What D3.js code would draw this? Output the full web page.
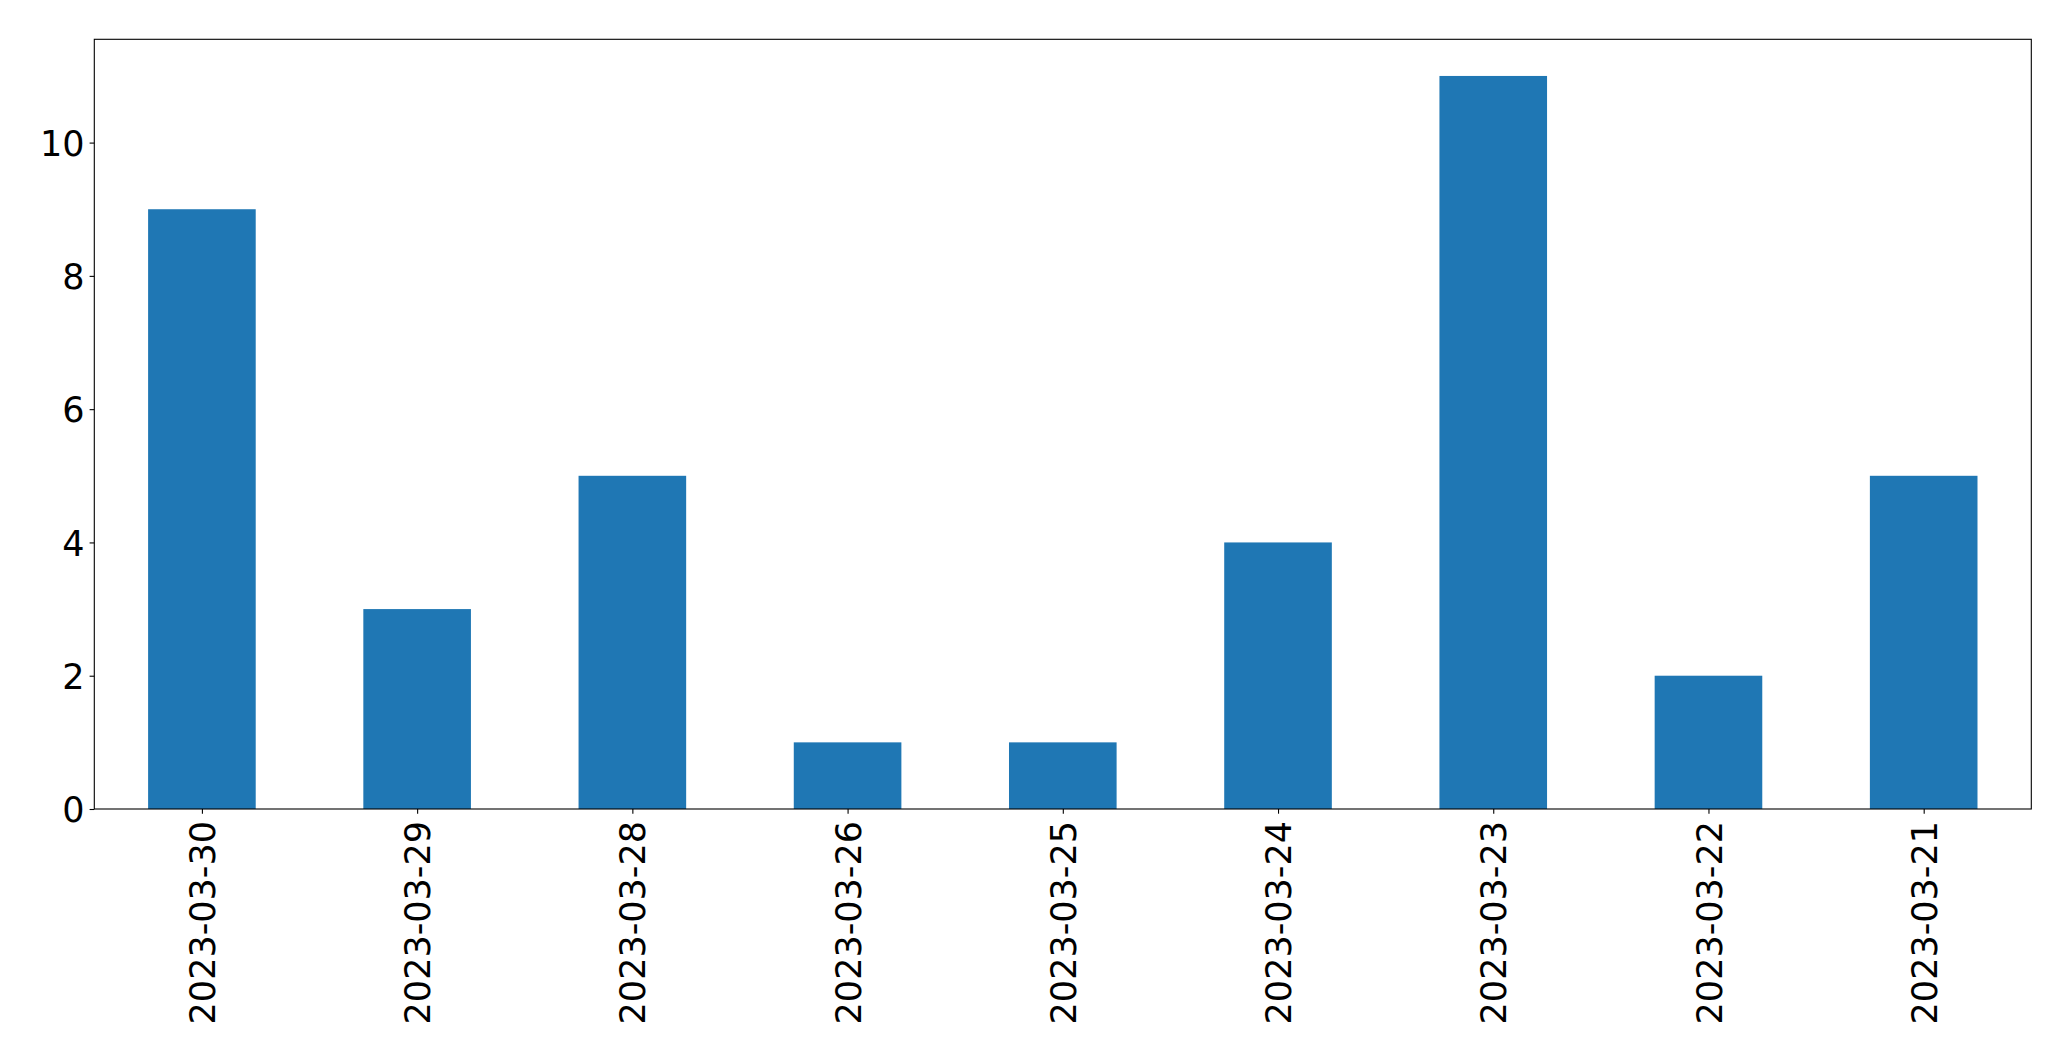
<!DOCTYPE html>
<html>
<head>
<meta charset="utf-8">
<script src="https://cdn.jsdelivr.net/npm/d3@7"></script>
<style>
  html, body { margin: 0; padding: 0; background: #fff; }
  text { font-family: "DejaVu Sans", sans-serif; }
</style>
</head>
<body>
<svg id="chart" width="2071" height="1061"></svg>
<script>
const categories = ["2023-03-30", "2023-03-29", "2023-03-28", "2023-03-26", "2023-03-25", "2023-03-24", "2023-03-23", "2023-03-22", "2023-03-21"];
const counts = [9, 3, 5, 1, 1, 4, 11, 2, 5];
const yTicks = [0, 2, 4, 6, 8, 10];

(function () {
const mLeft = 94.3, mTop = 39.3, mRight = 2031.3, mBottom = 809;
const svg = d3.select("#chart");

const x = d3.scaleLinear().domain([-0.5, categories.length - 0.5]).range([mLeft, mRight]);
const y = d3.scaleLinear().domain([0, d3.max(counts) * 1.05]).range([mBottom, mTop]);
const barW = 0.5;

svg.append("g").selectAll("rect").data(counts).join("rect")
  .attr("x", (d, i) => x(i - barW / 2))
  .attr("width", (d, i) => x(i + barW / 2) - x(i - barW / 2))
  .attr("y", d => y(d))
  .attr("height", d => y(0) - y(d))
  .attr("fill", "#1f77b4");

svg.append("rect")
  .attr("x", mLeft).attr("y", mTop)
  .attr("width", mRight - mLeft).attr("height", mBottom - mTop)
  .attr("fill", "none").attr("stroke", "#000").attr("stroke-width", 1.1);

const fs = 35;
const yAxis = d3.axisLeft(y).tickValues(yTicks).tickSize(4.7).tickPadding(5).tickFormat(d3.format("d"));
const gy = svg.append("g").attr("transform", `translate(${mLeft},0)`).call(yAxis);
gy.select(".domain").remove();
gy.selectAll(".tick line").attr("stroke", "#000").attr("stroke-width", 1.1);
gy.selectAll(".tick text").attr("font-size", fs).attr("fill", "#000")
  .attr("font-family", "DejaVu Sans, sans-serif").attr("dy", "0.36em");

const xAxis = d3.axisBottom(x).tickValues(d3.range(categories.length)).tickSize(4.7).tickPadding(0)
  .tickFormat(i => categories[i]);
const gx = svg.append("g").attr("transform", `translate(0,${mBottom})`).call(xAxis);
gx.select(".domain").remove();
gx.selectAll(".tick line").attr("stroke", "#000").attr("stroke-width", 1.1);
gx.selectAll(".tick text")
  .attr("font-size", fs).attr("fill", "#000")
  .attr("font-family", "DejaVu Sans, sans-serif")
  .attr("text-anchor", "end")
  .attr("transform", "translate(0,12) rotate(-90)")
  .attr("x", 0).attr("y", 0).attr("dy", "0.36em");
})();
</script>
</body>
</html>
